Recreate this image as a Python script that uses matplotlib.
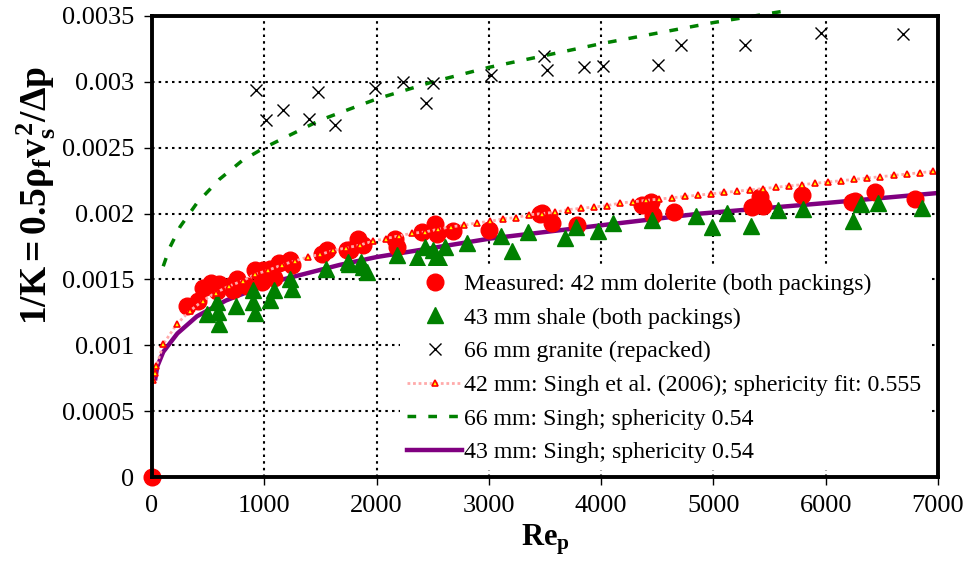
import numpy as np
import matplotlib
matplotlib.use("Agg")
import matplotlib.pyplot as plt

plt.rcParams['font.family'] = ['Liberation Serif', 'DejaVu Serif']
plt.rcParams['mathtext.fontset'] = 'custom'
plt.rcParams['mathtext.rm'] = 'Liberation Serif'
plt.rcParams['mathtext.bf'] = 'Liberation Serif:bold'
plt.rcParams['mathtext.it'] = 'Liberation Serif:italic'

# Measured: 42 mm dolerite (both packings)
dol_re = [0, 314, 412, 451, 525, 600, 576, 710, 760, 724, 849, 917, 977, 991, 1086, 1051,
          1134, 1229, 1244, 1511, 1556, 1734, 1763, 1837, 1876, 2164, 2179, 2402, 2520,
          2541, 2683, 3004, 3455, 3470, 3559, 3787, 4361, 4441, 4458, 4648, 5346, 5414,
          5443, 5785, 6230, 6260, 6438, 6794]
dol_k = [0, 0.001295, 0.001333, 0.001434, 0.001472, 0.001467, 0.001412, 0.001455, 0.001505,
         0.001417, 0.001447, 0.001568, 0.001480, 0.001573, 0.001513, 0.001581, 0.001624,
         0.001644, 0.001606, 0.001695, 0.001720, 0.001725, 0.001725, 0.001808, 0.001758,
         0.001808, 0.001750, 0.001859, 0.001922, 0.001846, 0.001871, 0.001876, 0.001998,
         0.002002, 0.001927, 0.001917, 0.002068, 0.002086, 0.001992, 0.002015, 0.002048,
         0.002124, 0.002061, 0.002144, 0.002091, 0.002098, 0.002161, 0.002111]

# 43 mm shale (both packings)
sha_re = [493, 576, 591, 600, 748, 902, 902, 917, 1051, 1086, 1229, 1249, 1549, 1748, 1757,
          1858, 1876, 1911, 2184, 2357, 2431, 2505, 2529, 2565, 2609, 2802, 3105, 3203, 3351,
          3678, 3776, 3974, 4102, 4455, 4844, 4984, 5123, 5331, 5577, 5794, 6239, 6311, 6462,
          6854]
sha_k = [0.001240, 0.001328, 0.001252, 0.001164, 0.001295, 0.001417, 0.001328, 0.001245,
         0.001346, 0.001422, 0.001505, 0.001429, 0.001581, 0.001631, 0.001614, 0.001631,
         0.001593, 0.001555, 0.001682, 0.001664, 0.001745, 0.001720, 0.001674, 0.001649,
         0.001745, 0.001775, 0.001833, 0.001715, 0.001859, 0.001816, 0.001896, 0.001866,
         0.001927, 0.001952, 0.001985, 0.001896, 0.002002, 0.001909, 0.002028, 0.002036,
         0.001942, 0.002074, 0.002078, 0.002043]

# 66 mm granite (repacked)
gra_re = [929, 1013, 1167, 1474, 1399, 1627, 1985, 2233, 2438, 2506, 3018, 3488, 3518, 3845,
          4016, 4510, 4714, 5277, 5955, 6690]
gra_k = [0.00294, 0.00271, 0.00279, 0.00292, 0.00272, 0.00267, 0.00295, 0.00300, 0.00284,
         0.00299, 0.00305, 0.00320, 0.00309, 0.00311, 0.00312, 0.00313, 0.00328, 0.00328,
         0.00337, 0.00336]

# 42 mm: Singh et al. (2006); sphericity fit 0.555
s42_re = [9, 24, 38, 101, 220, 336, 455, 568, 688, 807, 920, 1036, 1155, 1271, 1387, 1500,
          1616, 1732, 1848, 1964, 2080, 2196, 2312, 2428, 2544, 2660, 2776, 2892, 3008, 3124,
          3240, 3356, 3472, 3588, 3704, 3820, 3936, 4052, 4168, 4284, 4400, 4516, 4632, 4748,
          4864, 4980, 5096, 5212, 5328, 5444, 5560, 5676, 5792, 5908, 6024, 6140, 6256, 6372,
          6488, 6604, 6720, 6836, 6952]
s42_k = [0.000735, 0.00079, 0.00084, 0.00101, 0.00116, 0.00126, 0.00134, 0.00140, 0.00145,
         0.00149, 0.00154, 0.00157, 0.00161, 0.00164, 0.00167, 0.00169, 0.00172, 0.00174,
         0.00176, 0.00179, 0.00181, 0.00183, 0.00185, 0.00186, 0.00188, 0.00190, 0.00191,
         0.00193, 0.00194, 0.00196, 0.00197, 0.00199, 0.00200, 0.00201, 0.00203, 0.00204,
         0.00205, 0.00206, 0.00208, 0.00209, 0.00210, 0.00211, 0.00212, 0.00213, 0.00214,
         0.00215, 0.00216, 0.00217, 0.00218, 0.00219, 0.00220, 0.00221, 0.00222, 0.00223,
         0.00224, 0.00225, 0.00226, 0.00227, 0.00228, 0.00229, 0.00230, 0.00231, 0.00232]

# 66 mm: Singh; sphericity 0.54
s66_re = [100, 157, 250, 400, 600, 800, 1000, 1500, 2000, 2500, 3000, 3500, 4000, 4500, 5000, 5650]
s66_k = [0.00160, 0.00174, 0.00190, 0.00208, 0.00226, 0.00240, 0.00250, 0.00271, 0.00287,
         0.00300, 0.00311, 0.00320, 0.00329, 0.00337, 0.00345, 0.00354]

# 43 mm: Singh; sphericity 0.54
s43_re = [30, 47, 100, 226, 400, 658, 1074, 1670, 2000, 3009, 3991, 4884, 6000, 7050]
s43_k = [0.00075, 0.00084, 0.00095, 0.00109, 0.00122, 0.00134, 0.00148, 0.00161, 0.00167,
         0.00181, 0.00191, 0.00200, 0.00208, 0.00216]

fig = plt.figure(figsize=(9.64, 5.67), dpi=100)
ax = fig.add_axes([0.1577, 0.1587, 0.8153, 0.8131])

ax.plot(s43_re, s43_k, color='#800080', lw=3.2, zorder=3, label='43 mm: Singh; sphericity 0.54')
ax.plot(dol_re, dol_k, 'o', color='#ff0000', ms=12, mec='#ff0000', zorder=4, clip_on=False,
        label='Measured: 42 mm dolerite (both packings)')
ax.plot(sha_re, sha_k, '^', color='#008000', ms=11, zorder=5, label='43 mm shale (both packings)')
ax.plot(gra_re, gra_k, 'x', color='black', ms=9, mew=1.0, zorder=5, label='66 mm granite (repacked)')
ax.plot(s42_re, s42_k, color='#ffaaaa', lw=2, ls=(0, (1, 1)), marker='^', ms=5,
        mfc='#ffff00', mec='#ff0000', mew=1.2, zorder=6,
        label='42 mm: Singh et al. (2006); sphericity fit: 0.555')
ax.plot(s66_re, s66_k, color='#008000', lw=2.5, ls=(0, (2.5, 3.5)), zorder=3, clip_on=False,
        label='66 mm: Singh; sphericity 0.54')

ax.set_xlim(0, 7000)
ax.set_ylim(0, 0.0035)
ax.set_xticks(np.arange(0, 7001, 1000))
ax.set_yticks(np.arange(0, 0.00351, 0.0005))
ax.set_yticklabels(['0', '0.0005', '0.001', '0.0015', '0.002', '0.0025', '0.003', '0.0035'])
ax.grid(True, color='black', ls=(0, (1.2, 2)), lw=1.5)
ax.set_axisbelow(True)
for s in ax.spines.values():
    s.set_linewidth(2.8)
    s.set_zorder(10)
ax.tick_params(labelsize=19, direction='out', length=6, width=1, pad=7)

ax.set_xlabel(r'$\mathbf{Re_p}$', fontsize=22, labelpad=4)
ax.set_ylabel(r'$\mathbf{1/K{=}0.5ρ_f v_s^{\,2}/Δp}$', fontsize=27)
ax.yaxis.set_label_coords(-0.12, 0.61)

h, l = ax.get_legend_handles_labels()
order = [1, 2, 3, 4, 5, 0]
leg = ax.legend([h[i] for i in order], [l[i] for i in order], loc='upper left',
                bbox_to_anchor=(400 / 964, 1 - 266 / 567), bbox_transform=fig.transFigure,
                frameon=True, facecolor='white', edgecolor='none', framealpha=1,
                fancybox=False, fontsize=17.2, handlelength=2.3, handletextpad=0.1,
                labelspacing=0.5, borderaxespad=0, borderpad=0.3)
leg.set_zorder(8)

fig.savefig('out.png', dpi=100)
